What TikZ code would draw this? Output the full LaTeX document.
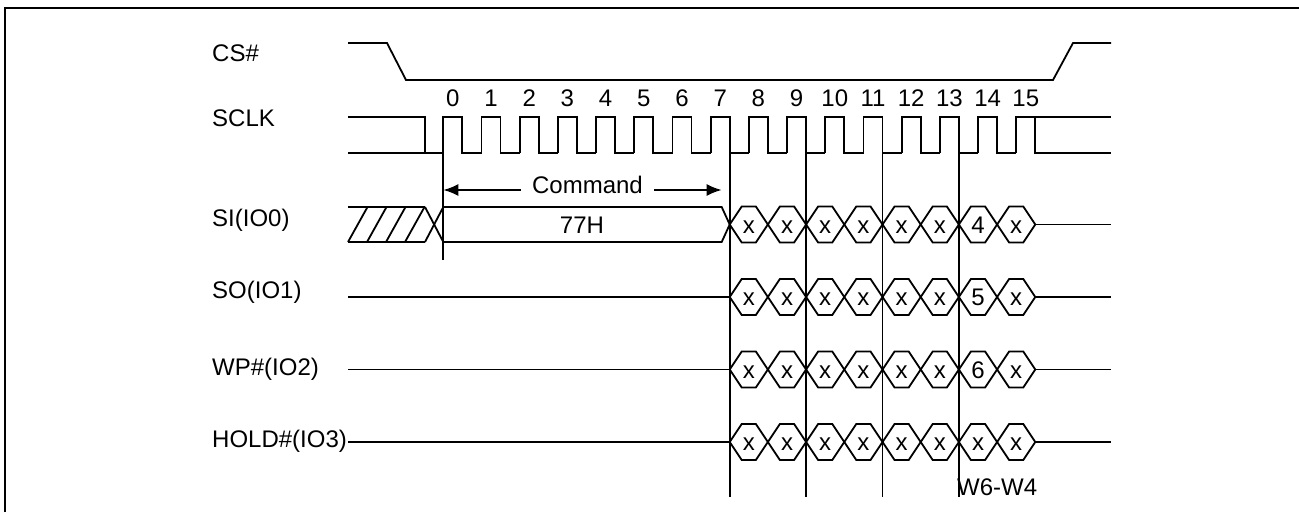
\documentclass[tikz,border=0pt]{standalone}
\usepackage{fontspec}
\setmainfont{Liberation Sans}
\usetikzlibrary{arrows.meta,calc}
\tikzset{
    wave/.style={line width=1.8pt, line join=miter},
    frame/.style={line width=1.8pt},
    marker/.style={line width=1.8pt},
    signame/.style={anchor=base west, inner sep=0pt, font=\fontsize{24}{28}\selectfont},
    txt/.style={anchor=base, inner sep=0pt, font=\fontsize{24}{28}\selectfont},
    span/.style={-{Latex[length=15pt, width=12pt]}, line width=1.8pt}
}
\def\xo{443.3}
\def\ck{38.2}
\begin{document}
\begin{tikzpicture}[x=1pt, y=-1pt]
    \useasboundingbox (0,0) rectangle (1299,512);
    \draw[frame] (5,512) -- (5,8) -- (1299,8);

    % signal names
    \node[signame] (cs) at (212,61.5) {CS\#};
    \node[signame] (sclk) at (212,126.5) {SCLK};
    \node[signame] (si) at (212,226) {SI(IO0)};
    \node[signame] (so) at (212,298.5) {SO(IO1)};
    \node[signame] (wp) at (212,375) {WP\#(IO2)};
    \node[signame] (hold) at (212,447) {HOLD\#(IO3)};

    % CS#
    \draw[wave] (348,43) -- (387,43) -- (406,80) -- (1053,80) -- (1073,43) -- (1111,43);

    % SCLK
    \draw[wave] (348,117) -- (425,117) -- (425,153);
    \draw[wave] (348,153) -- (\xo,153);
    \foreach \i in {0,...,15} {
        \draw[wave] ({\xo+\ck*\i},153) -- ++(0,-36) -- ++(19,0) -- ++(0,36) -- ++(19.2,0);
        \node[txt] (num\i) at ({\xo+\ck*\i+9.5},106) {\i};
    }
    \draw[wave] ({\xo+\ck*15+19},117) -- (1111,117);
    \draw[wave] ({\xo+\ck*15+19},153) -- (1111,153);

    % bit boundaries
    \draw[marker] (\xo,117) -- (\xo,260);
    \foreach \i in {7,9,11,13}
        \draw[marker] ({\xo+\ck*\i+19},117) -- ({\xo+\ck*\i+19},497);

    % command span
    \coordinate (cmdL) at (\xo,190);
    \coordinate (cmdR) at (721.7,190);
    \node[txt, inner xsep=11pt] (cmd) at (587.5,193) {Command};
    \draw[span] (cmd.west |- cmdL) -- (cmdL);
    \draw[span] (cmd.east |- cmdR) -- (cmdR);

    % SI opcode
    \draw[wave] (348,207) -- (425,207);
    \draw[wave] (348,242) -- (425,242);
    \foreach \h in {348,367,386,405}
        \draw[wave] (\h,242) -- ({\h+19.5},207);
    \draw[wave] (425,207) -- (\xo,242);
    \draw[wave] (425,242) -- (\xo,207);
    \draw[wave] (\xo,207) -- (721.7,207) -- (729.7,224.5) -- (721.7,242) -- (\xo,242);
    \node[txt] (op) at (582,233.5) {77H};

    % idle levels
    \foreach \m in {297,369.5,442}
        \draw[wave] (348,\m) -- (729.7,\m);

    % data cells
    \foreach \row/\m/\bit in {si/224.5/4, so/297/5, wp/369.5/6, hold/442/x} {
        \foreach \k in {0,...,7} {
            \draw[wave] ({729.7+\ck*\k},\m) -- ++(12,-18) -- ++(14.2,0) -- ++(12,18)
                -- ++(-12,18) -- ++(-14.2,0) -- cycle;
            \node[txt] (\row-b\k) at ({729.7+\ck*\k+19.1},\m+8.5) {\ifnum\k=6 \bit\else x\fi};
        }
        \draw[wave] ({729.7+\ck*8},\m) -- (1111,\m);
    }

    \node[txt, anchor=base west] (w64) at (957,495) {W6-W4};
\end{tikzpicture}
\end{document}
